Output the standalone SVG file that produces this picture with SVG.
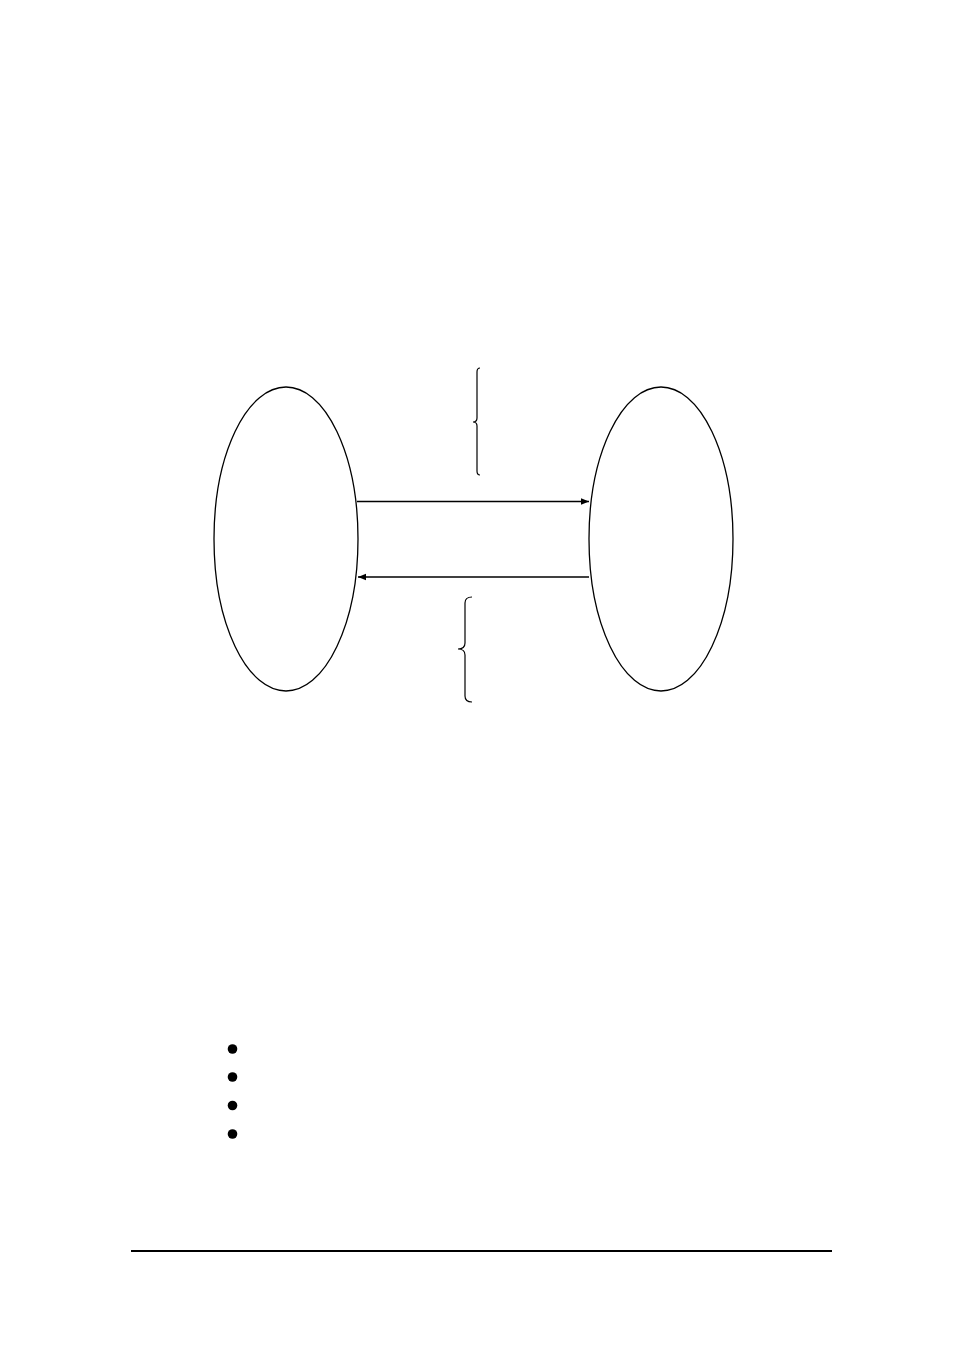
<svg xmlns="http://www.w3.org/2000/svg" width="954" height="1351" viewBox="0 0 954 1351">
<style>
.node{fill:none;stroke:#000;stroke-width:1.3}
.conn{stroke:#000;stroke-width:1.3;fill:none}
.brace{stroke:#000;stroke-width:1.2;fill:none}
.bullet{fill:#000}
</style>
<defs>
<marker id="ah" viewBox="0 0 10 10" refX="10" refY="5" markerWidth="10" markerHeight="8" markerUnits="userSpaceOnUse" orient="auto">
<path d="M0,1 L10,5 L0,9 Z" fill="#000"/>
</marker>
</defs>
<rect width="954" height="1351" fill="#fff"/>
<g id="node-left"><ellipse class="node" cx="286" cy="539" rx="72" ry="152"/></g>
<g id="node-right"><ellipse class="node" cx="661" cy="539" rx="72" ry="152"/></g>
<g id="connectors">
<line class="conn" x1="357" y1="501.5" x2="589" y2="501.5" marker-end="url(#ah)"/>
<line class="conn" x1="589" y1="577" x2="358" y2="577" marker-end="url(#ah)"/>
</g>
<g id="brace-top"><path class="brace" d="M480,368 Q477,368 477,372 L477,418 Q477,422 473,422 Q477,422 477,426 L477,471 Q477,475 480,475"/></g>
<g id="brace-bottom"><path class="brace" d="M472,597 Q465,597 465,603 L465,643 Q465,649 458,649 Q465,649 465,655 L465,696 Q465,702 472,702"/></g>
<g id="bullets">
<circle class="bullet" cx="232.5" cy="1049" r="4.8"/>
<circle class="bullet" cx="232.5" cy="1077" r="4.8"/>
<circle class="bullet" cx="232.5" cy="1105.5" r="4.8"/>
<circle class="bullet" cx="232.5" cy="1134" r="4.8"/>
</g>
<line x1="131" y1="1251" x2="832" y2="1251" stroke="#000" stroke-width="2"/>
</svg>
